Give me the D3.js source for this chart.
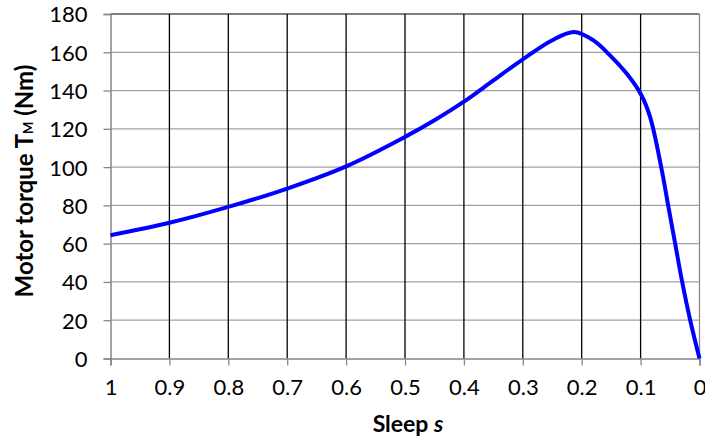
<!DOCTYPE html>
<html><head><meta charset="utf-8">
<script src="https://cdn.jsdelivr.net/npm/d3@7"></script>
<style>body{margin:0;background:#fff}svg{display:block}</style>
</head><body>
<svg id="c" width="705" height="445"></svg>
<script>
const slip = [1.0,0.9,0.8,0.7,0.6,0.5,0.45,0.4,0.35,0.3,0.25,0.213,0.18,0.152,0.123,0.099,0.0837,0.065,0.0532,0.0413,0.0294,0.0158,0];
const torque = [64.4,70.9,79.2,88.8,100.4,115.8,124.5,134.2,145.3,156.3,166.3,170.6,166.2,158.4,148.6,137.8,126,100,80,60,40,20,0];
const xTicks = [1,0.9,0.8,0.7,0.6,0.5,0.4,0.3,0.2,0.1,0];
const yTicks = [0,20,40,60,80,100,120,140,160,180];

const svg = d3.select('#c');
const L=110.5,R=699.5,T=14,B=358.5;
const x = d3.scaleLinear().domain([1,0]).range([L,R]);
const y = d3.scaleLinear().domain([0,180]).range([B,T]);
const font = 'Lato, "Open Sans", sans-serif';

// horizontal gridlines
svg.append('g').selectAll('line').data(yTicks.filter(d=>d>0)).join('line')
  .attr('x1',L).attr('x2',R).attr('y1',d=>y(d)).attr('y2',d=>y(d))
  .attr('stroke', d=>d===180?'#555':'#a0a0a0').attr('stroke-width',1.3);
// vertical gridlines
svg.append('g').selectAll('line').data(xTicks.filter(d=>d<1 && d>0)).join('line')
  .attr('x1',d=>x(d)).attr('x2',d=>x(d)).attr('y1',T).attr('y2',B)
  .attr('stroke','#000').attr('stroke-width',1.3);
// right border
svg.append('line').attr('x1',R).attr('x2',R).attr('y1',T).attr('y2',B).attr('stroke','#888').attr('stroke-width',1.3);

// axes
const xAxis = d3.axisBottom(x).tickValues(xTicks).tickSize(7).tickPadding(14).tickFormat(d=>String(d));
const gx = svg.append('g').attr('transform',`translate(0,${B})`).call(xAxis);
const yAxis = d3.axisLeft(y).tickValues(yTicks).tickSize(7).tickPadding(16).tickFormat(d=>String(d));
const gy = svg.append('g').attr('transform',`translate(${L},0)`).call(yAxis);
[gx,gy].forEach(g=>{
  g.select('.domain').attr('stroke','#868686').attr('stroke-width',1.5);
  g.selectAll('.tick line').attr('stroke','#868686').attr('stroke-width',1.3);
  g.selectAll('.tick text').attr('fill','#000').style('font-family',font).style('font-size','22px');
});
gy.selectAll('.tick text').attr('dy','0.36em');

// curve
const pts = slip.map((s,i)=>[s,torque[i]]);
svg.append('path').datum(pts)
  .attr('d', d3.line().x(d=>x(d[0])).y(d=>y(d[1])).curve(d3.curveCatmullRom.alpha(0.5)))
  .attr('fill','none').attr('stroke','#0000ff').attr('stroke-width',4).attr('stroke-linejoin','round');

// axis titles
const xt = svg.append('text').attr('x',408).attr('y',432).attr('text-anchor','middle')
  .style('font-family',font).style('font-size','23px').style('font-weight','bold');
xt.append('tspan').text('Sleep ');
xt.append('tspan').text('s').style('font-style','italic');

const yt = svg.append('text').attr('transform','translate(33,181) rotate(-90)').attr('text-anchor','middle')
  .style('font-family',font).style('font-size','24px').style('font-weight','bold');
yt.append('tspan').text('Motor torque T');
yt.append('tspan').text('M').style('font-size','13px');
yt.append('tspan').text(' (Nm)');
</script>
</body></html>
